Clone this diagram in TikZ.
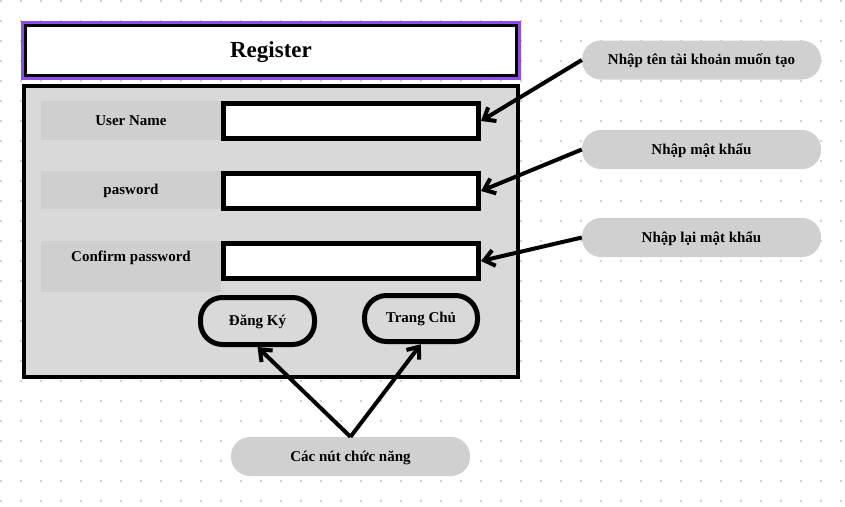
\documentclass[tikz,border=0pt]{standalone}
\usepackage{fontspec}
\setmainfont{Liberation Serif}
\usetikzlibrary{decorations.markings}
\definecolor{panelgray}{HTML}{D9D9D9}
\definecolor{cellgray}{HTML}{CFCFCF}
\definecolor{pillgray}{HTML}{D0D0D0}
\definecolor{dotcol}{HTML}{CDD1DE}
\definecolor{selpurple}{HTML}{8B4DF0}
\begin{document}
\begin{tikzpicture}[x=1pt,y=-1pt,
  lbl/.style={font=\fontsize{15}{18}\selectfont\bfseries, text=black},
  cell/.style={fill=cellgray, draw=none, outer sep=0pt},
  inbox/.style={draw=black, line width=5pt, fill=white, minimum width=255pt, minimum height=35pt},
  btn/.style={draw=black, line width=5pt, fill=panelgray, rounded corners=22pt, lbl},
  pill/.style={fill=pillgray, draw=none, rounded corners=19pt, minimum width=239pt, minimum height=39pt, lbl},
  arr/.style={line width=4pt, shorten >=3pt, postaction={decorate}, decoration={markings,
     mark=at position 1 with {\fill[black, line join=round] (0pt,0pt) -- (-12pt,-9.6pt) -- (-14.5pt,-6.4pt) -- (-6.4pt,0pt) -- (-14.5pt,6.4pt) -- (-12pt,9.6pt) -- cycle;}}}
]
\useasboundingbox (0,0) rectangle (845,506);
\foreach \i in {0,...,42} \foreach \j in {0,...,25} \fill[dotcol] (20*\i,20*\j) rectangle ++(2,2);

% panel
\node[draw=black, line width=4pt, fill=panelgray, outer sep=0pt, minimum width=494pt, minimum height=291pt] (panel) at (271,231.5) {};
% title
\node[draw=black, line width=3.5pt, fill=white, outer sep=0pt, minimum width=491pt, minimum height=50pt] (title) at (271,50.5) {};
\node[font=\fontsize{23}{27}\selectfont\bfseries] (tt) at (271,52) {Register};
\draw[selpurple, line width=2.5pt] ([shift={(-3,-3)}]title.north west) rectangle ([shift={(3,3)}]title.south east);

% label cells
\node[cell, minimum width=180pt, minimum height=39pt] (c1) at (131,120.5) {};
\node[cell, minimum width=180pt, minimum height=38pt] (c2) at (131,190) {};
\node[cell, minimum width=180pt, minimum height=51pt] (c3) at (131,266.5) {};
\node[lbl] (t1) at (131,121) {User Name};
\node[lbl] (t2) at (131,191) {pasword};
\node[lbl] (t3) at (131,258) {Confirm password};

% input boxes
\node[inbox] (i1) at (351,121) {};
\node[inbox] (i2) at (351,191) {};
\node[inbox] (i3) at (351,261) {};

% buttons
\node[btn, minimum width=114pt, minimum height=47pt] (b1) at (257.5,321) {};
\node[lbl] (bt1) at (257.5,322) {Đăng Ký};
\node[btn, minimum width=113pt, minimum height=46pt] (b2) at (421,318.5) {};
\node[lbl] (bt2) at (421,319) {Trang Chủ};

% callouts
\node[pill] (p1) at (701.5,60) {};
\node[lbl] (pt1) at (701.5,61) {Nhập tên tài khoản muốn tạo};
\node[pill] (p2) at (701.5,149.5) {};
\node[lbl] (pt2) at (701.5,150.5) {Nhập mật khẩu};
\node[pill] (p3) at (701.5,237.5) {};
\node[lbl] (pt3) at (701.5,238.5) {Nhập lại mật khẩu};
\node[pill] (p4) at (350.5,456.5) {};
\node[lbl] (pt4) at (350.5,457.5) {Các nút chức năng};

% arrows
\draw[arr] (p1.west) -- (i1.east);
\draw[arr] (p2.west) -- (i2.east);
\draw[arr] (p3.west) -- (i3.east);
\draw[arr] (p4.north) -- (b1.south);
\draw[arr] (p4.north) -- (b2.south);
\end{tikzpicture}
\end{document}
